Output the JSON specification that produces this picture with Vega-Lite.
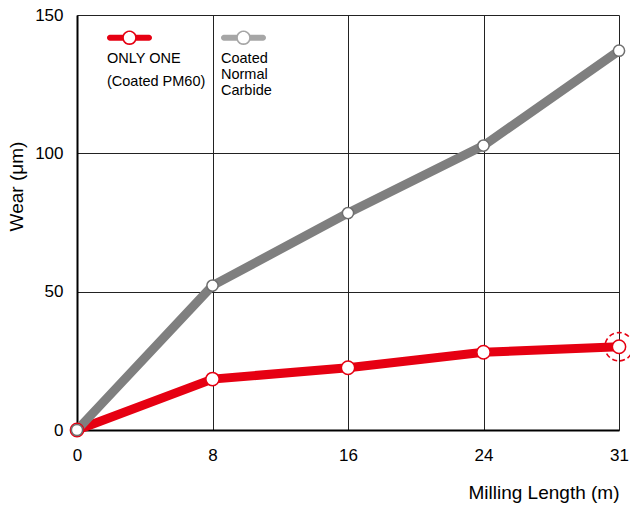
{
  "$schema": "https://vega.github.io/schema/vega-lite/v6.json",
  "width": 542,
  "height": 415,
  "autosize": "none",
  "padding": {"left": 77, "top": 15, "right": 11, "bottom": 79},
  "background": "white",
  "config": {
    "view": {"stroke": null},
    "font": "Liberation Sans"
  },
  "data": {
    "values": [
      {"length": 0, "wear": 0, "series": "PM60"},
      {"length": 8, "wear": 18.4, "series": "PM60"},
      {"length": 16, "wear": 22.5, "series": "PM60"},
      {"length": 24, "wear": 28.1, "series": "PM60"},
      {"length": 31, "wear": 30.1, "series": "PM60"},
      {"length": 0, "wear": 0, "series": "Normal"},
      {"length": 8, "wear": 52.2, "series": "Normal"},
      {"length": 16, "wear": 78.4, "series": "Normal"},
      {"length": 24, "wear": 102.8, "series": "Normal"},
      {"length": 31, "wear": 137.1, "series": "Normal"}
    ]
  },
  "encoding": {
    "x": {
      "field": "length", "type": "ordinal",
      "scale": {"type": "point", "padding": 0},
      "axis": {
        "title": "Milling Length (m)", "labelAngle": 0,
        "labelFontSize": 17, "labelColor": "black", "labelPadding": 17,
        "ticks": false, "domainColor": "black", "domainWidth": 2,
        "grid": true, "gridColor": "#222", "gridWidth": 1,
        "titleFontSize": 19, "titleFontWeight": "normal", "titleColor": "black",
        "titleAnchor": "end", "titlePadding": 20
      }
    },
    "y": {
      "field": "wear", "type": "quantitative",
      "scale": {"domain": [0, 150], "nice": false},
      "axis": {
        "title": "Wear (μm)", "values": [0, 50, 100, 150],
        "labelFontSize": 17, "labelColor": "black", "labelPadding": 14,
        "ticks": false, "domainColor": "black", "domainWidth": 2,
        "grid": true, "gridColor": "#222", "gridWidth": 1,
        "titleFontSize": 19, "titleFontWeight": "normal", "titleColor": "black",
        "titleX": -51, "titleY": 171
      }
    }
  },
  "layer": [
    {
      "mark": {"type": "line", "strokeWidth": 9, "strokeCap": "butt"},
      "encoding": {
        "color": {
          "field": "series", "type": "nominal",
          "scale": {"domain": ["PM60", "Normal"], "range": ["#e60012", "#7f7f7f"]},
          "legend": {
            "orient": "none", "legendX": 30, "legendY": 0,
            "direction": "horizontal", "title": null,
            "symbolType": "M-0.3,-0.133 L-0.867,-0.133 A0.133,0.133 0 0 0 -0.867,0.133 L-0.3,0.133 A0.33,0.33 0 0 0 0.3,0.133 L0.867,0.133 A0.133,0.133 0 0 0 0.867,-0.133 L0.3,-0.133 A0.33,0.33 0 0 0 -0.3,-0.133 Z M0.25,0 A0.25,0.25 0 1 1 -0.25,0 A0.25,0.25 0 1 1 0.25,0 Z M0,4 L0,4.001 Z",
            "symbolSize": 2025, "symbolStrokeWidth": 0,
            "labelExpr": "datum.value == 'PM60' ? ['ONLY ONE', '(Coated PM60)'] : ['Coated', 'Normal', 'Carbide']",
            "labelFontSize": 14.5, "labelColor": "black", "labelOffset": 0,
            "labelBaseline": "top",
            "columnPadding": 15,
            "encoding": {
              "symbols": {
                "fill": {"condition": {"test": "datum.value == 'PM60'", "value": "#e60012"}, "value": "#a6a6a6"},
                "stroke": {"value": "transparent"},
                "opacity": {"value": 1}
              },
              "labels": {
                "dx": {"value": -45},
                "dy": {"value": 14},
                "lineHeight": {"condition": {"test": "datum.value == 'PM60'", "value": 23}, "value": 16}
              }
            }
          }
        }
      }
    },
    {
      "mark": {"type": "point", "filled": true, "fill": "white", "strokeWidth": 1.5, "opacity": 1},
      "encoding": {
        "stroke": {"field": "series", "type": "nominal", "scale": {"domain": ["PM60", "Normal"], "range": ["#e60012", "#6f6f6f"]}, "legend": null},
        "size": {"condition": {"test": "datum.series == 'PM60'", "value": 177}, "value": 126}
      }
    },
    {
      "transform": [{"filter": "datum.series == 'PM60' && datum.length == 31"}],
      "mark": {"type": "point", "filled": false, "stroke": "#e60012", "strokeWidth": 1.6, "strokeDash": [5, 3], "size": 800, "opacity": 1}
    }
  ]
}
